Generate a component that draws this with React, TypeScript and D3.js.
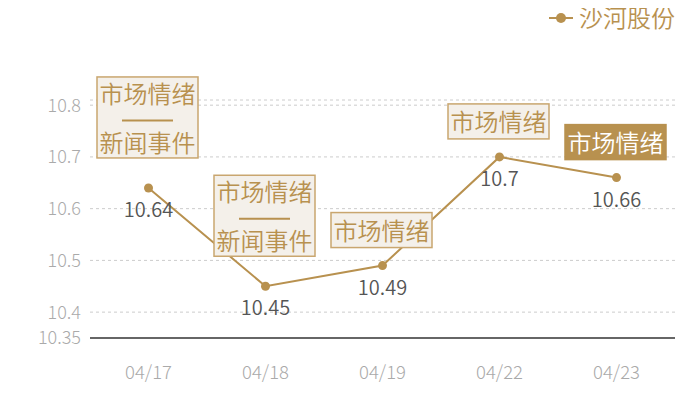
import React from 'react';
import * as d3 from 'd3';

// chart data
const dates = ['04/17', '04/18', '04/19', '04/22', '04/23'];
const prices = [10.64, 10.45, 10.49, 10.7, 10.66];
const eventLines = [
  ['市场情绪', '新闻事件'],
  ['市场情绪', '新闻事件'],
  ['市场情绪'],
  ['市场情绪'],
  ['市场情绪'],
];
const highlighted = [false, false, false, false, true];
const yTicks = [10.4, 10.5, 10.6, 10.7, 10.8];
const yMin = 10.35;
const yMax = 10.81;
const seriesName = '沙河股份';

const W = 700;
const H = 400;
const gold = '#b8914f';
const font = '"Noto Sans CJK SC", "Noto Sans", sans-serif';

const App: React.FC = () => {
  const margin = { top: 100, right: 25, bottom: 62, left: 90 };

  const x = d3.scaleBand()
    .domain(dates)
    .range([margin.left, W - margin.right]);

  const y = d3.scaleLinear()
    .domain([yMin, yMax])
    .range([H - margin.bottom, margin.top]);

  const cx = (d: string) => (x(d) ?? 0) + x.bandwidth() / 2;

  const line = d3.line<number>()
    .x((_, i) => cx(dates[i]))
    .y(d => y(d));

  const fs = 24; // annotation font size
  const boxW = 101;

  return (
    <svg width={W} height={H} style={{ display: 'block', margin: -8 }}>
      <rect width={W} height={H} fill="#fff" />

      {/* grid */}
      {[...yTicks, yMax].map(t => (
        <line key={t} x1={margin.left} x2={W - margin.right} y1={y(t)} y2={y(t)}
          stroke="#ccc" strokeDasharray="3,3" strokeWidth={1} />
      ))}

      {/* y tick labels */}
      {[yMin, ...yTicks].map(t => (
        <text key={t} x={81} y={y(t)} dy="0.36em" textAnchor="end"
          fontSize={18} fontWeight={300} fill="#aaa" fontFamily={font}>{t}</text>
      ))}

      {/* x axis */}
      <line x1={margin.left} x2={W - margin.right} y1={y(yMin)} y2={y(yMin)}
        stroke="#333" strokeWidth={1.5} />
      {dates.map(d => (
        <text key={d} x={cx(d)} y={379} textAnchor="middle"
          fontSize={18.5} fontWeight={300} fill="#aaa" fontFamily={font}>{d}</text>
      ))}

      {/* series line */}
      <path d={line(prices) ?? ''} fill="none" stroke={gold} strokeWidth={2} />
      {prices.map((p, i) => (
        <circle key={i} cx={cx(dates[i])} cy={y(p)} r={4.5} fill={gold} />
      ))}

      {/* value labels */}
      {prices.map((p, i) => (
        <text key={i} x={cx(dates[i])} y={y(p) + 29} textAnchor="middle"
          fontSize={20} fontWeight={350} fill="#555" fontFamily={font}>{p}</text>
      ))}

      {/* annotation boxes */}
      {eventLines.map((lines, i) => {
        const px = cx(dates[i]);
        const py = y(prices[i]);
        const two = lines.length > 1;
        const h = two ? 81 : 35;
        const bottom = py - (two ? 30 : 18);
        const top = bottom - h;
        const left = px - boxW / 2 - 1;
        const hl = highlighted[i];
        return (
          <g key={i}>
            <rect x={left} y={top} width={boxW} height={h}
              fill={hl ? gold : '#f4f0ea'} stroke={hl ? gold : '#c9a66f'} strokeWidth={1.5} />
            {two ? (
              <>
                <text x={left + boxW / 2} y={top + 26} textAnchor="middle"
                  fontSize={fs} fontWeight={350} fill={gold} fontFamily={font}>{lines[0]}</text>
                <line x1={left + 25} x2={left + 76} y1={top + 43.5} y2={top + 43.5}
                  stroke={gold} strokeWidth={2} />
                <text x={left + boxW / 2} y={top + 75} textAnchor="middle"
                  fontSize={fs} fontWeight={350} fill={gold} fontFamily={font}>{lines[1]}</text>
              </>
            ) : (
              <text x={left + boxW / 2} y={top + 27} textAnchor="middle"
                fontSize={fs} fontWeight={350} fill={hl ? '#fff' : gold} fontFamily={font}>{lines[0]}</text>
            )}
          </g>
        );
      })}

      {/* legend */}
      <line x1={549} x2={573} y1={18} y2={18} stroke={gold} strokeWidth={2} />
      <circle cx={561} cy={18} r={5} fill={gold} />
      <text x={579} y={27} fontSize={24} fontWeight={350} fill={gold} fontFamily={font}>{seriesName}</text>
    </svg>
  );
};

export default App;
